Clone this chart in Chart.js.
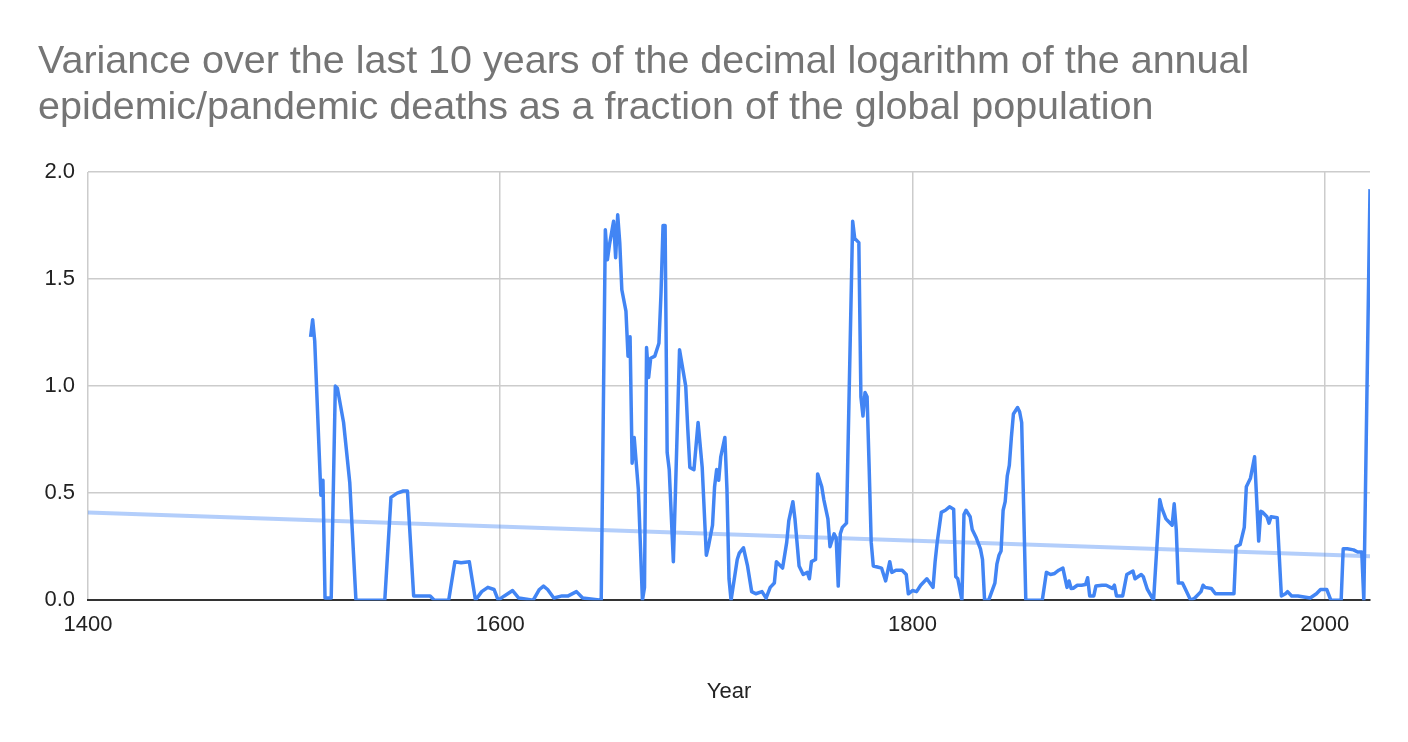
<!DOCTYPE html>
<html>
<head>
<meta charset="utf-8">
<title>Variance of log epidemic deaths</title>
<script src="https://cdn.jsdelivr.net/npm/chart.js@4.4.0/dist/chart.umd.min.js"></script>
<style>
    html, body { margin: 0; padding: 0; background: #ffffff; }
    #wrap { width: 1408px; height: 742px; position: relative; }
</style>
</head>
<body>
<div id="wrap"><canvas id="variance-chart"></canvas></div>
<script>
// データここから
const years = [
    1508, 1509, 1510, 1513, 1514, 1515, 1518, 1520, 1521, 1524,
    1527, 1530, 1544, 1547, 1550, 1553, 1555, 1558, 1566, 1568,
    1575, 1578, 1581, 1585, 1588, 1591, 1594, 1597, 1599, 1602,
    1606, 1609, 1616, 1619, 1621, 1623, 1626, 1630, 1633, 1637,
    1640, 1649, 1651, 1652, 1653, 1655, 1656, 1657, 1658, 1659,
    1661, 1662, 1663, 1664, 1665, 1667, 1669, 1670, 1671, 1672,
    1673, 1675, 1677, 1678, 1679, 1680, 1681, 1682, 1684, 1685,
    1687, 1690, 1691, 1692, 1694, 1696, 1698, 1700, 1701, 1703,
    1704, 1705, 1706, 1707, 1709, 1710, 1711, 1712, 1715, 1716,
    1718, 1720, 1722, 1724, 1727, 1729, 1731, 1733, 1734, 1737,
    1739, 1740, 1742, 1743, 1745, 1747, 1749, 1750, 1751, 1753,
    1754, 1756, 1757, 1759, 1760, 1762, 1763, 1764, 1765, 1766,
    1768, 1771, 1772, 1774, 1775, 1776, 1777, 1778, 1779, 1780,
    1781, 1783, 1785, 1787, 1789, 1790, 1792, 1795, 1797, 1798,
    1800, 1802, 1804, 1807, 1810, 1811, 1812, 1814, 1816, 1818,
    1820, 1821, 1822, 1824, 1825, 1826, 1828, 1829, 1831, 1833,
    1834, 1835, 1837, 1840, 1841, 1842, 1843, 1844, 1845, 1846,
    1847, 1848, 1849, 1851, 1852, 1853, 1855, 1863, 1865, 1867,
    1869, 1871, 1873, 1875, 1876, 1877, 1878, 1880, 1882, 1884,
    1885, 1886, 1888, 1889, 1892, 1894, 1897, 1898, 1899, 1902,
    1904, 1907, 1908, 1911, 1912, 1914, 1917, 1920, 1921, 1923,
    1924, 1926, 1927, 1928, 1929, 1931, 1932, 1935, 1937, 1940,
    1941, 1942, 1945, 1947, 1950, 1953, 1956, 1957, 1959, 1961,
    1962, 1964, 1966, 1968, 1969, 1970, 1972, 1973, 1974, 1977,
    1979, 1981, 1982, 1984, 1987, 1990, 1993, 1996, 1998, 2001,
    2003, 2008, 2009, 2011, 2014, 2016, 2018, 2019, 2022
];

const variance = [
    1.23, 1.31, 1.21, 0.49, 0.56, 0.01, 0.01, 1.00, 0.99, 0.83,
    0.55, 0.00, 0.00, 0.48, 0.50, 0.51, 0.51, 0.02, 0.02, 0.00,
    0.00, 0.18, 0.175, 0.18, 0.00, 0.04, 0.06, 0.05, 0.00, 0.02,
    0.045, 0.01, 0.00, 0.05, 0.066, 0.05, 0.01, 0.02, 0.02, 0.04,
    0.01, 0.00, 1.73, 1.59, 1.66, 1.77, 1.60, 1.80, 1.67, 1.45,
    1.35, 1.14, 1.23, 0.64, 0.76, 0.52, 0.00, 0.06, 1.18, 1.04,
    1.13, 1.14, 1.20, 1.43, 1.75, 1.75, 0.69, 0.61, 0.18, 0.50,
    1.17, 1.00, 0.80, 0.62, 0.61, 0.83, 0.62, 0.21, 0.25, 0.35,
    0.53, 0.61, 0.56, 0.67, 0.76, 0.52, 0.10, 0.00, 0.19, 0.22,
    0.245, 0.16, 0.04, 0.03, 0.04, 0.01, 0.06, 0.08, 0.18, 0.15,
    0.27, 0.37, 0.46, 0.38, 0.16, 0.12, 0.13, 0.10, 0.18, 0.19,
    0.59, 0.53, 0.47, 0.38, 0.25, 0.31, 0.29, 0.066, 0.31, 0.34,
    0.36, 1.77, 1.69, 1.67, 0.95, 0.86, 0.97, 0.95, 0.62, 0.27,
    0.16, 0.155, 0.15, 0.09, 0.18, 0.13, 0.14, 0.14, 0.12, 0.03,
    0.045, 0.04, 0.07, 0.10, 0.06, 0.18, 0.27, 0.41, 0.42, 0.436,
    0.425, 0.11, 0.10, 0.00, 0.40, 0.42, 0.39, 0.33, 0.29, 0.24,
    0.19, 0.00, 0.00, 0.08, 0.17, 0.21, 0.23, 0.42, 0.46, 0.58,
    0.63, 0.76, 0.87, 0.90, 0.88, 0.83, 0.00, 0.00, 0.13, 0.12,
    0.125, 0.14, 0.15, 0.06, 0.09, 0.055, 0.056, 0.07, 0.07, 0.073,
    0.105, 0.02, 0.02, 0.066, 0.07, 0.07, 0.055, 0.07, 0.02, 0.02,
    0.12, 0.136, 0.10, 0.12, 0.11, 0.05, 0.00, 0.47, 0.43, 0.38,
    0.37, 0.35, 0.45, 0.33, 0.08, 0.08, 0.06, 0.00, 0.01, 0.04,
    0.07, 0.06, 0.055, 0.03, 0.03, 0.03, 0.03, 0.25, 0.26, 0.34,
    0.53, 0.57, 0.67, 0.276, 0.415, 0.41, 0.39, 0.36, 0.39, 0.385,
    0.02, 0.03, 0.04, 0.02, 0.02, 0.015, 0.01, 0.03, 0.05, 0.05,
    0.00, 0.00, 0.24, 0.24, 0.235, 0.225, 0.225, 0.00, 1.92
];

// トレンドライン (両端の値)
const trendYears = [1400, 2022];
const trendValues = [0.41, 0.205];

// 目盛り
const xTicks = [1400, 1600, 1800, 2000];
const yTicks = [0, 0.5, 1.0, 1.5, 2.0];
// データここまで

const fontFamily = "'Liberation Sans', Arial, sans-serif";

function toPoints(xs, ys) {
    return xs.map(function (x, i) {
        return { x: x, y: ys[i] };
    });
}

const ctx = document.querySelector("#variance-chart");

new Chart(ctx, {
    type: "line",
    data: {
        datasets: [
            {
                label: "Variance",
                data: toPoints(years, variance),
                borderColor: "#4285f4",
                borderWidth: 3.5,
                borderJoinStyle: "round",
                pointRadius: 0,
                tension: 0,
                fill: false,
            },
            {
                label: "Trendline",
                data: toPoints(trendYears, trendValues),
                borderColor: "rgba(66,133,244,0.4)",
                borderWidth: 4,
                pointRadius: 0,
                tension: 0,
                fill: false,
            },
        ],
    },
    options: {
        responsive: true,
        maintainAspectRatio: false,
        animation: false,
        layout: {
            padding: { left: 38, right: 38, top: 0, bottom: 0 },
        },
        plugins: {
            legend: { display: false },
            tooltip: { enabled: false },
            title: {
                display: true,
                align: "start",
                text: [
                    "Variance over the last 10 years of the decimal logarithm of the annual",
                    "epidemic/pandemic deaths as a fraction of the global population",
                ],
                color: "#757575",
                font: { family: fontFamily, size: 39.5, weight: "normal", lineHeight: 1.1646 },
                padding: { top: 39, bottom: 41 },
            },
        },
        scales: {
            x: {
                type: "linear",
                min: 1400,
                max: 2022,
                afterBuildTicks: function (scale) {
                    scale.ticks = xTicks.map(function (v) { return { value: v }; });
                },
                ticks: {
                    color: "#222222",
                    font: { family: fontFamily, size: 22 },
                    padding: 12,
                    maxRotation: 0,
                    autoSkip: false,
                    callback: function (v) { return String(v); },
                },
                grid: { color: "#cccccc", lineWidth: 1.5, drawTicks: false },
                border: { display: true, color: "#333333", width: 2 },
                title: {
                    display: true,
                    text: "Year",
                    color: "#222222",
                    font: { family: fontFamily, size: 22 },
                    padding: { top: 28, bottom: 37 },
                },
            },
            y: {
                min: 0,
                max: 2,
                afterBuildTicks: function (scale) {
                    scale.ticks = yTicks.map(function (v) { return { value: v }; });
                },
                afterFit: function (scale) {
                    scale.width = 50;
                },
                ticks: {
                    color: "#222222",
                    font: { family: fontFamily, size: 22 },
                    padding: 13,
                    callback: function (v) { return Number(v).toFixed(1); },
                },
                grid: { color: "#cccccc", lineWidth: 1.5, drawTicks: false },
                border: { display: false },
            },
        },
    },
});
</script>
</body>
</html>
